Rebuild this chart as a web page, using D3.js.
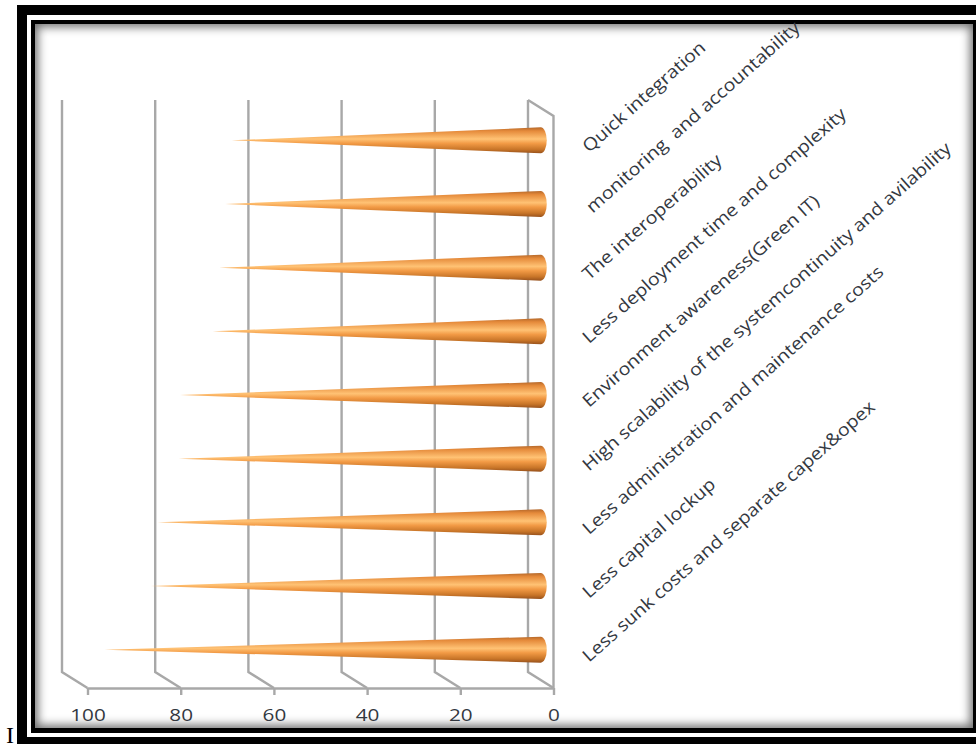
<!DOCTYPE html>
<html>
<head>
<meta charset="utf-8">
<script src="https://cdnjs.cloudflare.com/ajax/libs/d3/7.8.5/d3.min.js"></script>
<style>
  html, body { margin: 0; padding: 0; background: #fff; width: 976px; height: 744px; overflow: hidden; }
  #chart { position: absolute; left: 0; top: 0; }
  .outer { position: absolute; left: 17px; top: 5px; width: 959px; height: 739px; box-sizing: border-box;
           border: solid #000; border-width: 10px 0 7px 10px; }
  .inner { position: absolute; left: 31px; top: 20px; width: 945px; height: 713px; box-sizing: border-box;
           border: solid #000; border-width: 4px 3px 5px 4px; box-shadow: inset 0 0 10px 3px #707070; }
  text { font-family: "Open Sans", Lato, sans-serif; white-space: pre; }
</style>
</head>
<body>
<div class="outer"></div>
<div class="inner"></div>
<svg id="chart" width="976" height="744"></svg>
<script>
// Benefit categories, listed from the top of the chart downwards
const categories = [
  "Quick integration",
  " monitoring  and accountability",
  "The interoperability",
  "Less deployment time and complexity",
  "Environment awareness(Green IT)",
  "High scalability of the systemcontinuity and avilability",
  "Less administration and maintenance costs",
  "Less capital lockup",
  "Less sunk costs and separate capex&opex"
];
const values = [66.3, 67.7, 69, 70.4, 77.4, 77.7, 82.2, 83.7, 93.6];
const tickValues = [100, 80, 60, 40, 20, 0];

const svg = d3.select("#chart");

// Oblique projection of the 3D plot box
const depthX = -25.5, depthY = -16;
const x = d3.scaleLinear().domain([0, 100]).range([553.5, 87.5]);
const y = d3.scaleBand().domain(categories).range([108.5, 681.5]);

const wallColor = "#a8a8a8";
const walls = svg.append("g").attr("fill", "none").attr("stroke", wallColor).attr("stroke-width", 2.4);
const floorY = 688, ceilY = 116;

// Back wall gridlines plus the floor edges running forward to the axis
walls.selectAll("path.grid").data(tickValues).join("path")
  .attr("class", "grid")
  .attr("d", d => `M${x(d) + depthX},${ceilY + depthY}V${floorY + depthY}L${x(d)},${floorY}`);
// Closing side wall at zero
walls.append("path")
  .attr("d", `M${x(0) + depthX},${ceilY + depthY}L${x(0)},${ceilY}V${floorY}`);

// Value axis along the front floor edge
const axis = d3.axisBottom(x).tickValues(tickValues).tickSize(7).tickPadding(14).tickSizeOuter(0);
const axisG = svg.append("g").attr("transform", `translate(0,${floorY})`).call(axis);
axisG.selectAll("line, path").attr("stroke", wallColor).attr("stroke-width", 2.4);
axisG.selectAll("text").attr("font-size", 17).attr("fill", "#33383f")
  .attr("transform", "scale(1.22,1)");

// Vertical shading that makes each cone look round
const defs = svg.append("defs");
const grad = defs.append("linearGradient").attr("id", "coneShade")
  .attr("x1", 0).attr("y1", 0).attr("x2", 0).attr("y2", 1);
[[0, "#b5682a"], [0.14, "#e58a3a"], [0.45, "#ffc274"], [0.62, "#f29a45"], [0.85, "#c87528"], [1, "#97511c"]]
  .forEach(([o, c]) => grad.append("stop").attr("offset", o).attr("stop-color", c));

// Cones sit half way through the box depth
const coneHalf = 13, midX = depthX / 2, bulge = 6;
const base = x(0) + midX;
svg.append("g").selectAll("path").data(values).join("path")
  .attr("fill", "url(#coneShade)")
  .attr("d", (v, i) => {
    const cy = y(categories[i]) + y.bandwidth() / 2;
    const tip = x(v) + midX;
    return `M${tip},${cy}L${base},${cy - coneHalf}` +
      `A${bulge},${coneHalf} 0 0 1 ${base},${cy + coneHalf}Z`;
  });

// Category labels slanted up to the right, each starting beside its cone
const labelX = 589, labelDy = 13;
svg.append("g").selectAll("text").data(categories).join("text")
  .attr("transform", (c) => `translate(${labelX},${y(c) + y.bandwidth() / 2 + labelDy}) rotate(-41.5) scale(1.12,1)`)
  .attr("font-size", 17.5)
  .attr("fill", "#33383f")
  .text(c => c);

// Stray serif capital at the bottom left margin
svg.append("text").attr("x", 6).attr("y", 743)
  .style("font-family", "Liberation Serif")
  .attr("font-size", 24).attr("fill", "#000").text("I");
</script>
</body>
</html>
